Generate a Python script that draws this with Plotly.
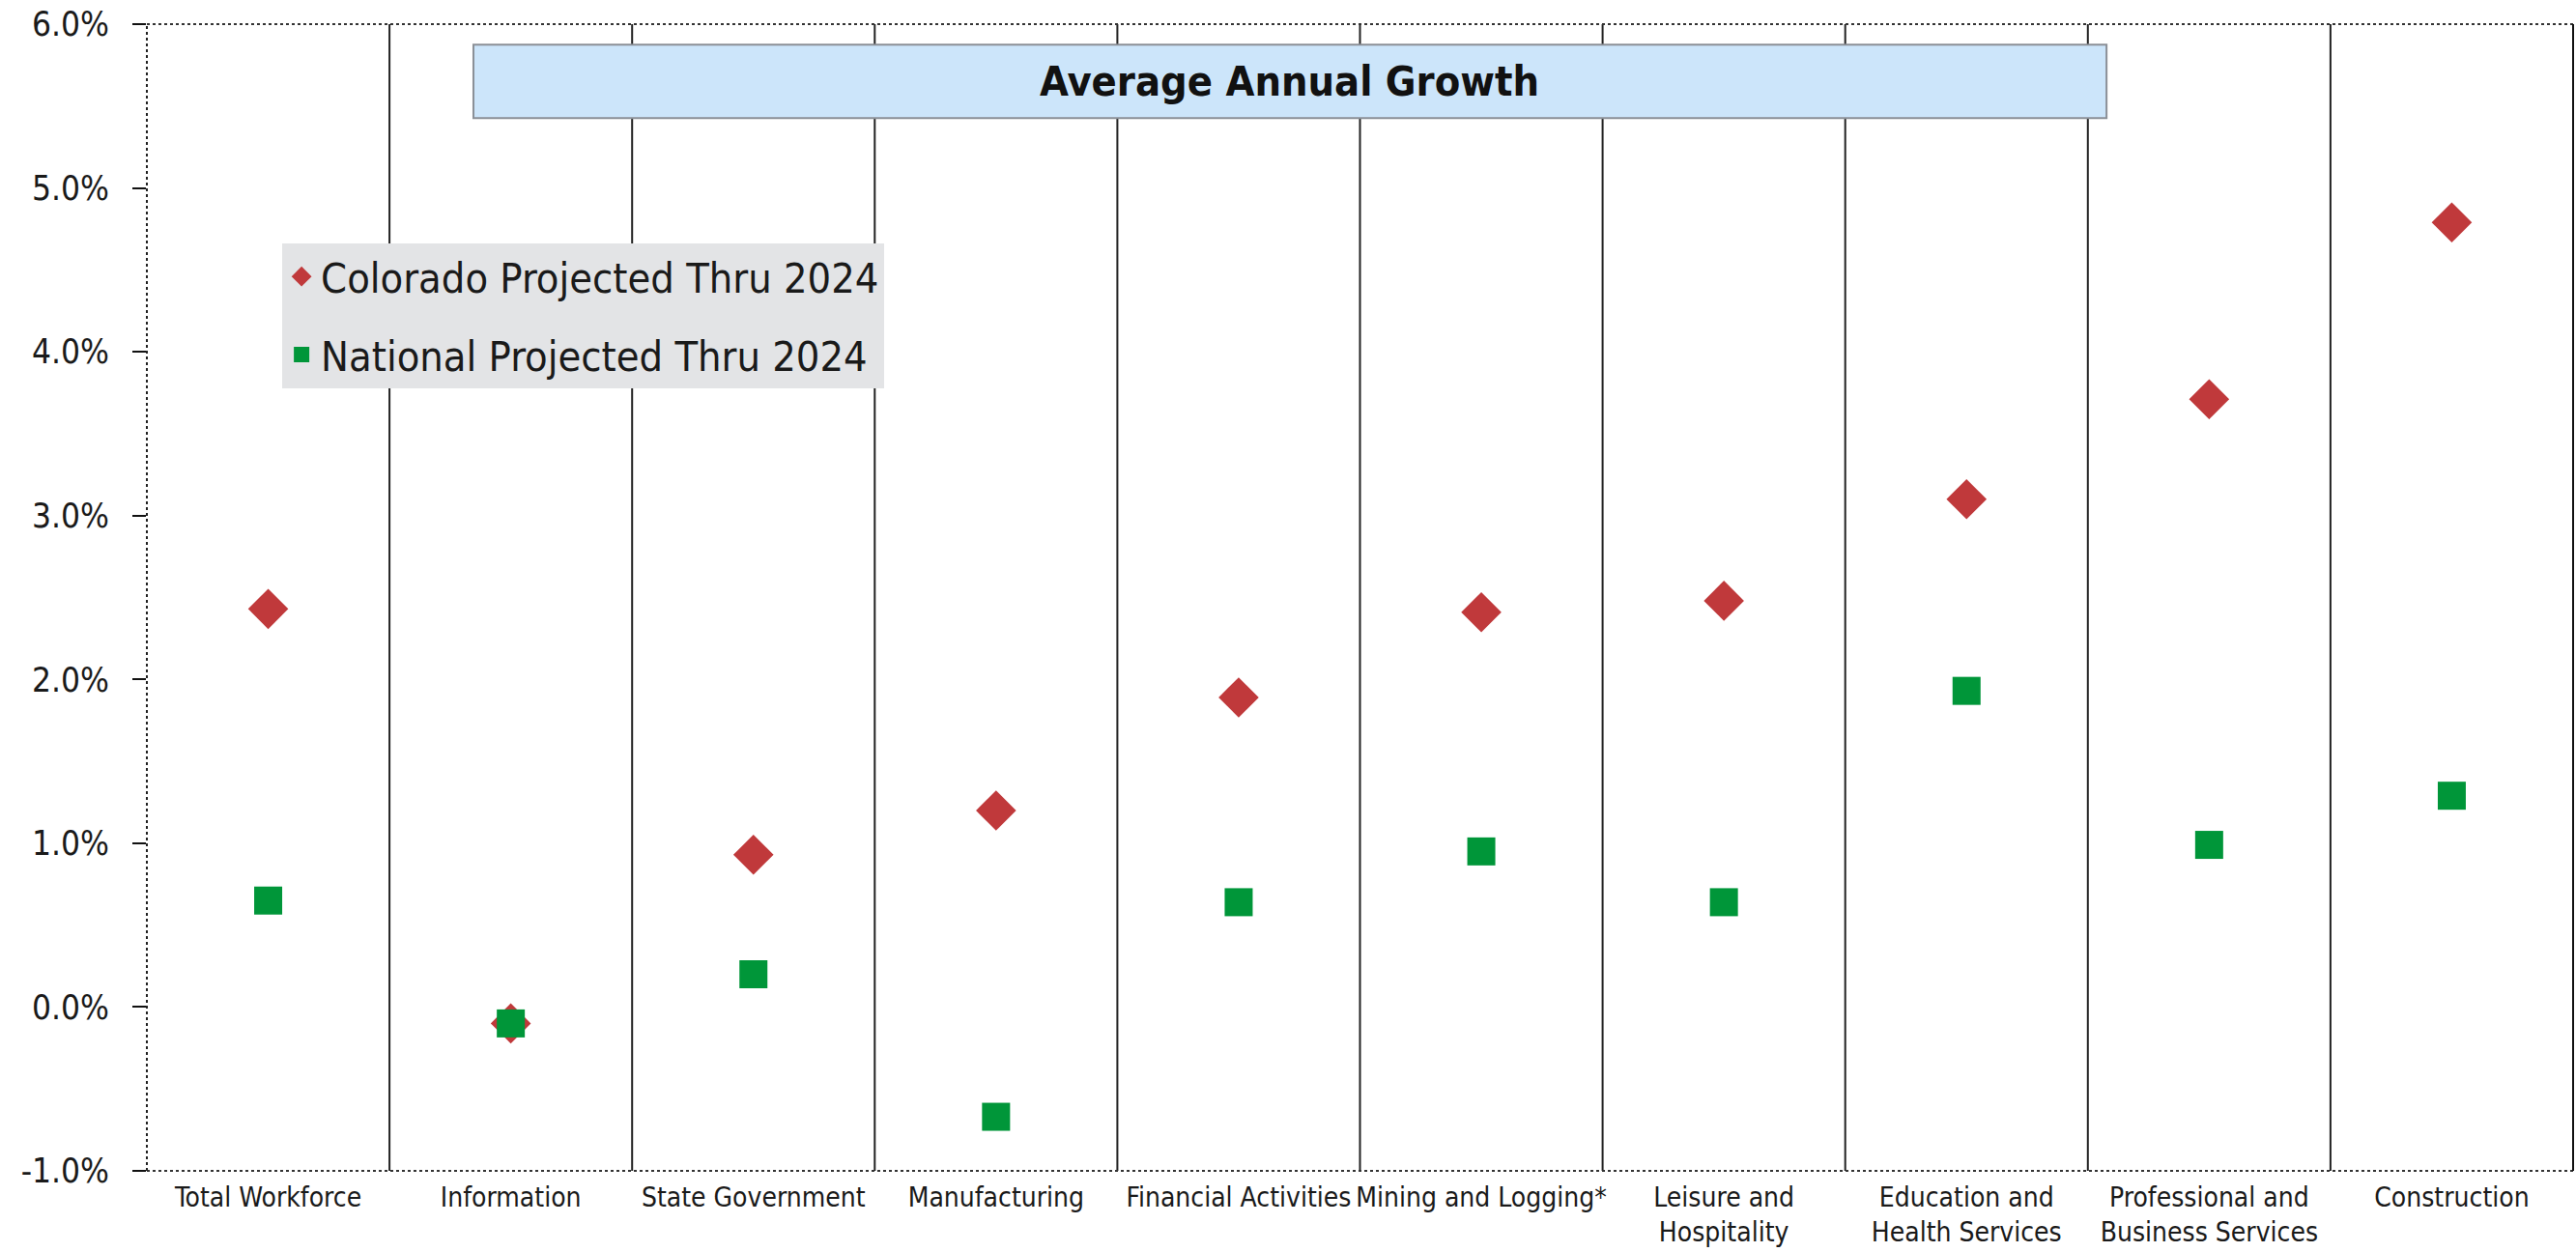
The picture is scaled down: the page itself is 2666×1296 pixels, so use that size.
import plotly.graph_objects as go

# Industry sectors along the x axis
categories = [
    "Total Workforce", "Information", "State Government", "Manufacturing",
    "Financial Activities", "Mining and Logging*", "Leisure and<br>Hospitality",
    "Education and<br>Health Services", "Professional and<br>Business Services",
    "Construction",
]

# Average annual growth, percent
colorado = [2.43, -0.10, 0.93, 1.20, 1.89, 2.41, 2.48, 3.10, 3.71, 4.79]
national = [0.65, -0.10, 0.20, -0.67, 0.64, 0.95, 0.64, 1.93, 0.99, 1.29]

y_ticks = [-1, 0, 1, 2, 3, 4, 5, 6]
y_tick_labels = ["-1.0%", "0.0%", "1.0%", "2.0%", "3.0%", "4.0%", "5.0%", "6.0%"]

FONT = "DejaVu Sans Condensed, DejaVu Sans, sans-serif"
xs = list(range(len(categories)))

fig = go.Figure()
fig.add_trace(go.Scatter(
    x=xs, y=colorado, mode="markers", name="Colorado Projected Thru 2024",
    legendgroup="co",
    marker=dict(symbol="diamond", size=32, color="#C0393B", line=dict(width=0)),
))
fig.add_trace(go.Scatter(
    x=xs, y=national, mode="markers", name="National Projected Thru 2024",
    legendgroup="us",
    marker=dict(symbol="square", size=29, color="#009639", line=dict(width=0)),
))

shapes = []
# Category dividers
for i in range(len(categories) - 1):
    shapes.append(dict(type="line", xref="x", yref="paper", x0=i + 0.5, x1=i + 0.5,
                       y0=0, y1=1, line=dict(color="#222222", width=2)))
# Plot frame
shapes += [
    dict(type="line", xref="paper", yref="paper", x0=0, x1=1, y0=1, y1=1,
         line=dict(color="#333333", width=2, dash="dot")),
    dict(type="line", xref="paper", yref="paper", x0=0, x1=1, y0=0, y1=0,
         line=dict(color="#333333", width=2, dash="dot")),
    dict(type="line", xref="paper", yref="paper", x0=0, x1=0, y0=0, y1=1,
         line=dict(color="#222222", width=2, dash="dot")),
    dict(type="line", xref="paper", yref="paper", x0=1, x1=1, y0=0, y1=1,
         line=dict(color="#111111", width=2)),
]
# Title banner
shapes.append(dict(type="rect", xref="paper", yref="paper",
                   x0=0.1346, x1=0.8077, y0=0.918, y1=0.982,
                   fillcolor="#CCE5FA", line=dict(color="#8A8F96", width=2),
                   layer="above"))

fig.update_layout(
    width=2666, height=1296,
    margin=dict(l=152, r=3, t=25, b=84),
    paper_bgcolor="white", plot_bgcolor="white",
    font=dict(family=FONT, color="#1a1a1a"),
    shapes=shapes,
    annotations=[dict(
        text="<b>Average Annual Growth</b>", xref="paper", yref="paper",
        x=0.471, y=0.950, xanchor="center", yanchor="middle", showarrow=False,
        font=dict(family=FONT, size=43, color="#111111"),
    )],
    showlegend=True,
    legend=dict(
        x=0.0558, y=0.809, xanchor="left", yanchor="top",
        bgcolor="#E3E4E6", borderwidth=0,
        font=dict(family=FONT, size=43, color="#1a1a1a"),
        traceorder="grouped", tracegroupgap=22,
    ),
    xaxis=dict(
        range=[-0.5, len(categories) - 0.5],
        tickmode="array", tickvals=xs, ticktext=categories,
        showgrid=False, zeroline=False, showline=False, ticks="",
        tickfont=dict(family=FONT, size=28, color="#1a1a1a"),
        ticklabelstandoff=8,
    ),
    yaxis=dict(
        range=[-1, 6], tickmode="array", tickvals=y_ticks, ticktext=y_tick_labels,
        showgrid=False, zeroline=False, showline=False,
        ticks="outside", ticklen=14, tickwidth=2, tickcolor="#111111",
        tickfont=dict(family=FONT, size=35, color="#1a1a1a"),
        ticklabelstandoff=17,
    ),
)

fig.write_html("out.html")
